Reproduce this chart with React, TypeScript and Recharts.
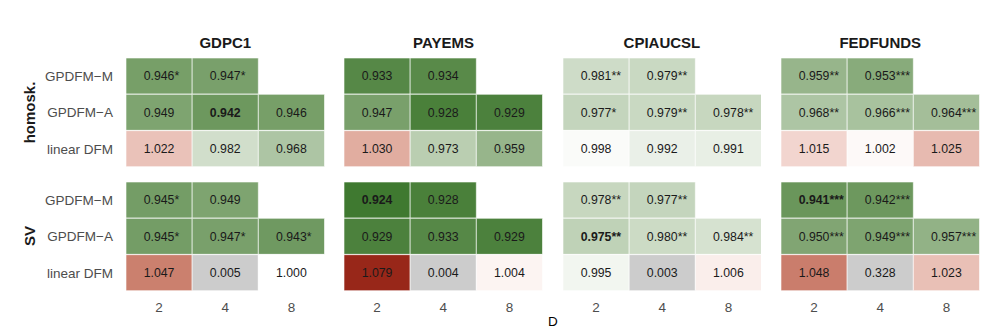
import { BarChart, Bar, XAxis, YAxis, Cell, LabelList } from "recharts";

const variables = ["GDPC1", "PAYEMS", "CPIAUCSL", "FEDFUNDS"];
const volatilities = ["homosk.", "SV"];
const models = ["GPDFM\u2212M", "GPDFM\u2212A", "linear DFM"];
const horizons = ["2", "4", "8"];

// relative RMSE, rows = models, cols = D
const gdpHomosk = [[0.946, 0.947, null], [0.949, 0.942, 0.946], [1.022, 0.982, 0.968]];
const gdpSV = [[0.945, 0.949, null], [0.945, 0.947, 0.943], [1.047, 0.005, 1.0]];
const payHomosk = [[0.933, 0.934, null], [0.947, 0.928, 0.929], [1.03, 0.973, 0.959]];
const paySV = [[0.924, 0.928, null], [0.929, 0.933, 0.929], [1.079, 0.004, 1.004]];
const cpiHomosk = [[0.981, 0.979, null], [0.977, 0.979, 0.978], [0.998, 0.992, 0.991]];
const cpiSV = [[0.978, 0.977, null], [0.975, 0.98, 0.984], [0.995, 0.003, 1.006]];
const fedHomosk = [[0.959, 0.953, null], [0.968, 0.966, 0.964], [1.015, 1.002, 1.025]];
const fedSV = [[0.941, 0.942, null], [0.95, 0.949, 0.957], [1.048, 0.328, 1.023]];

// significance stars
const gdpHomoskStars = [["*", "*", ""], ["", "", ""], ["", "", ""]];
const gdpSVStars = [["*", "", ""], ["*", "*", "*"], ["", "", ""]];
const payHomoskStars = [["", "", ""], ["", "", ""], ["", "", ""]];
const paySVStars = [["", "", ""], ["", "", ""], ["", "", ""]];
const cpiHomoskStars = [["**", "**", ""], ["*", "**", "**"], ["", "", ""]];
const cpiSVStars = [["**", "**", ""], ["**", "**", "**"], ["", "", ""]];
const fedHomoskStars = [["**", "***", ""], ["**", "***", "***"], ["", "", ""]];
const fedSVStars = [["***", "***", ""], ["***", "***", "***"], ["", "", ""]];

// best cell per panel: [variable, volatility, row, col]
const bestCells = [
  [0, 0, 1, 1],
  [1, 1, 0, 0],
  [2, 1, 1, 0],
  [3, 1, 0, 0],
];

const panelValues = [
  [gdpHomosk, gdpSV],
  [payHomosk, paySV],
  [cpiHomosk, cpiSV],
  [fedHomosk, fedSV],
];
const panelStars = [
  [gdpHomoskStars, gdpSVStars],
  [payHomoskStars, paySVStars],
  [cpiHomoskStars, cpiSVStars],
  [fedHomoskStars, fedSVStars],
];

const FONT = "'Liberation Sans', Arial, sans-serif";
const plotLefts = [126, 344.3, 562.7, 781];
const plotW = 198.5;
const plotTops = [58, 181.5];
const plotH = 109;
const yAxisW = 110;
const xAxisH = 30;

// colour scale (Lab interpolation, white at 1)
const LOW = "#347225";
const HIGH = "#962416";
const SPAN = 0.08;

function toLab(hex: string) {
  const c = [1, 3, 5].map((i) => parseInt(hex.slice(i, i + 2), 16) / 255);
  const [r, g, b] = c.map((v) => (v <= 0.04045 ? v / 12.92 : Math.pow((v + 0.055) / 1.055, 2.4)));
  const x = (0.4124 * r + 0.3576 * g + 0.1805 * b) / 0.95047;
  const y = 0.2126 * r + 0.7152 * g + 0.0722 * b;
  const z = (0.0193 * r + 0.1192 * g + 0.9505 * b) / 1.08883;
  const f = (t: number) => (t > 0.008856 ? Math.cbrt(t) : 7.787 * t + 16 / 116);
  return [116 * f(y) - 16, 500 * (f(x) - f(y)), 200 * (f(y) - f(z))];
}

function fromLab([L, a, b]: number[]) {
  const fy = (L + 16) / 116;
  const fx = fy + a / 500;
  const fz = fy - b / 200;
  const inv = (t: number) => (t * t * t > 0.008856 ? t * t * t : (t - 16 / 116) / 7.787);
  const x = inv(fx) * 0.95047;
  const y = inv(fy);
  const z = inv(fz) * 1.08883;
  const rl = 3.2406 * x - 1.5372 * y - 0.4986 * z;
  const gl = -0.9689 * x + 1.8758 * y + 0.0415 * z;
  const bl = 0.0557 * x - 0.204 * y + 1.057 * z;
  const out = [rl, gl, bl].map((v) => {
    const s = v <= 0.0031308 ? 12.92 * v : 1.055 * Math.pow(v, 1 / 2.4) - 0.055;
    return Math.round(Math.min(1, Math.max(0, s)) * 255);
  });
  return `rgb(${out[0]},${out[1]},${out[2]})`;
}

const white = toLab("#ffffff");
const lowLab = toLab(LOW);
const highLab = toLab(HIGH);

function fillFor(v: number | null) {
  if (v == null) return "none";
  const t = (v - 1) / SPAN;
  if (t < -1 || t > 1) return "#cccccc";
  const end = t < 0 ? lowLab : highLab;
  const k = Math.abs(t);
  return fromLab(white.map((w, i) => w + (end[i] - w) * k));
}

function renderLabel(props: any) {
  const vb = props.viewBox || props;
  const { value } = props;
  if (value == null || vb.width == null) return null;
  const [num, s, b] = String(value).split("|");
  const bold = b === "1";
  const cx = vb.x + vb.width / 2;
  const cy = vb.y + vb.height / 2;
  return (
    <g>
      <text x={cx} y={cy} dy="0.36em" textAnchor="middle" fontSize={12.3} fontFamily={FONT} fontWeight={bold ? 700 : 400} fill="#1a1a1a">
        {num}
      </text>
      {s && (
        <text x={cx + 15.4} y={cy} dy="0.36em" textAnchor="start" fontSize={12.3} fontFamily={FONT} fontWeight={bold ? 700 : 400} fill="#1a1a1a">
          {s}
        </text>
      )}
    </g>
  );
}

function Panel({ vi, si }: { vi: number; si: number }) {
  const vals = panelValues[vi][si];
  const stars = panelStars[vi][si];
  const data = models.map((m, r) => {
    const row: any = { model: m };
    horizons.forEach((_, c) => {
      const v = vals[r][c];
      const best = bestCells.some((b) => b[0] === vi && b[1] === si && b[2] === r && b[3] === c);
      row[`v${c}`] = v;
      row[`l${c}`] = v == null ? null : `${v.toFixed(3)}|${stars[r][c]}|${best ? 1 : 0}`;
    });
    return row;
  });
  const showY = vi === 0;
  const showX = si === 1;
  const width = plotW + (showY ? yAxisW : 0);
  const height = plotH + (showX ? xAxisH : 0);

  return (
    <div
      style={{
        position: "absolute",
        left: plotLefts[vi] - (showY ? yAxisW : 0),
        top: plotTops[si],
        width,
        height,
      }}
    >
      <BarChart
        width={width}
        height={height}
        data={data}
        layout="vertical"
        barCategoryGap={0}
        margin={{ top: 0, right: 0, bottom: 0, left: 0 }}
      >
        <XAxis
          type="number"
          domain={[0, 3]}
          ticks={[0.5, 1.5, 2.5]}
          tickFormatter={(v: number) => horizons[Math.floor(v)]}
          hide={!showX}
          height={xAxisH}
          axisLine={false}
          tickLine={false}
          tickSize={0}
          tickMargin={11}
          tick={{ fill: "#4d4d4d", fontSize: 13.5, fontFamily: FONT }}
        />
        <YAxis
          type="category"
          dataKey="model"
          hide={!showY}
          width={yAxisW}
          axisLine={false}
          tickLine={false}
          tickSize={0}
          tickMargin={13}
          tick={{ fill: "#4d4d4d", fontSize: 13.5, fontFamily: FONT }}
        />
        {[0, 1, 2].map((col) => (
          <Bar
            key={col}
            dataKey={(row: any) => (row[`v${col}`] == null ? 0 : 1)}
            stackId="d"
            isAnimationActive={false}
            stroke="#ffffff"
            strokeWidth={0.6}
          >
            {data.map((row: any, r) => (
              <Cell key={r} fill={fillFor(row[`v${col}`])} />
            ))}
            <LabelList dataKey={`l${col}`} content={renderLabel} />
          </Bar>
        ))}
      </BarChart>
    </div>
  );
}

export default function App() {
  return (
    <div style={{ position: "absolute", left: 0, top: 0, width: 988, height: 330, background: "#ffffff", fontFamily: FONT }}>
      <svg width={988} height={330} style={{ position: "absolute", left: 0, top: 0 }}>
        {variables.map((v, i) => (
          <text key={v} x={plotLefts[i] + plotW / 2} y={43} dy="0.36em" textAnchor="middle" fontSize={15} fontWeight={700} fill="#1a1a1a" fontFamily={FONT}>
            {v}
          </text>
        ))}
        {volatilities.map((v, i) => (
          <text
            key={v}
            x={0}
            y={0}
            transform={`translate(30, ${plotTops[i] + plotH / 2}) rotate(-90)`}
            dy="0.36em"
            textAnchor="middle"
            fontSize={15}
            fontWeight={700}
            fill="#1a1a1a"
            fontFamily={FONT}
          >
            {v}
          </text>
        ))}
        <text x={(plotLefts[0] + plotLefts[3] + plotW) / 2} y={321} dy="0.36em" textAnchor="middle" fontSize={13.5} fill="#000000" fontFamily={FONT}>
          D
        </text>
      </svg>
      {variables.map((_, vi) =>
        volatilities.map((_, si) => <Panel key={`${vi}-${si}`} vi={vi} si={si} />)
      )}
    </div>
  );
}
